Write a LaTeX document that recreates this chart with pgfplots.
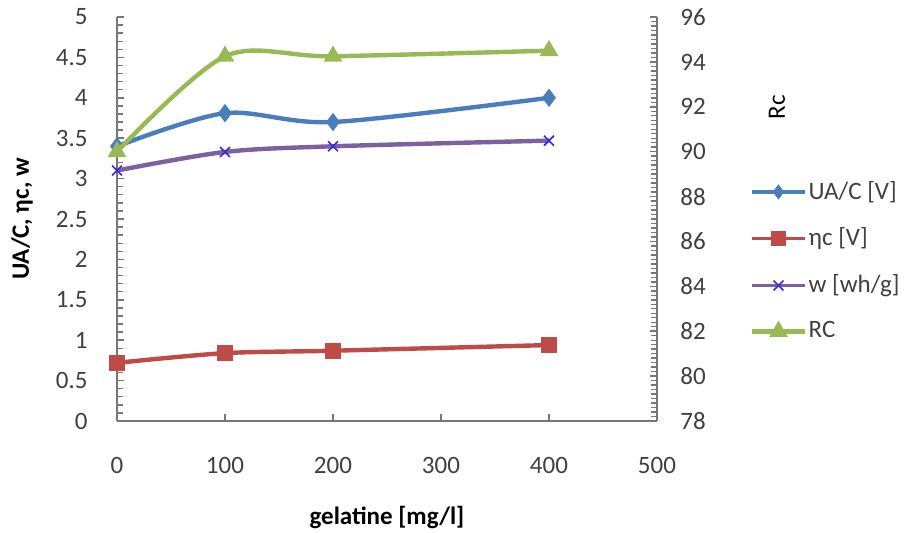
\documentclass[border=0pt]{standalone}
\usepackage{pgfplots}
\pgfplotsset{compat=1.18}
\usepackage{fontspec}
\setmainfont{Carlito}

\definecolor{ublue}{HTML}{4A7EBB}
\definecolor{ured}{HTML}{BE4B48}
\definecolor{upurple}{HTML}{7D60A0}
\definecolor{ugreen}{HTML}{98B954}
\definecolor{axisgray}{HTML}{777777}
\definecolor{labelgray}{HTML}{404040}

\begin{document}
\fontsize{12.5}{15}\selectfont
\begin{tikzpicture}
\pgfplotsset{
  common/.style={
    scale only axis, width=270pt, height=202pt,
    at={(0,0)}, anchor=south west,
    xmin=0, xmax=500,
    /pgf/number format/assume math mode=true,
    axis line style={axisgray, line width=0.8pt, -},
    every tick/.style={axisgray, line width=0.8pt},
    every minor tick/.style={axisgray, line width=0.7pt},
    tick align=inside,
    major tick length=3.5pt, minor tick length=2.8pt,
    tick label style={font=\fontsize{12.5}{15}\selectfont, text=labelgray},
    label style={font=\fontsize{12.5}{15}\selectfont, text=black},
    every axis plot/.append style={line width=2.2pt, smooth, tension=0.5},
  },
  legend image code/.code={%
    \draw[mark repeat=2, mark phase=2, #1]
      plot coordinates {(0pt,0pt) (13pt,0pt) (26pt,0pt)};%
  },
}

% left axis: voltages and specific energy
\begin{axis}[common, name=main,
  ymin=0, ymax=5,
  ytick={0,0.5,1,1.5,2,2.5,3,3.5,4,4.5,5},
  minor ytick={0,0.1,...,5},
  xtick={0,100,200,300,400,500},
  axis x line*=bottom, axis y line*=left,
  yticklabel style={anchor=east, inner sep=0pt, xshift=-14.5pt},
  xticklabel style={anchor=center, inner sep=0pt, yshift=-22pt},
  xlabel={\textbf{gelatine [mg/l]}},
  every axis x label/.style={at={(axis description cs:0.5,-0.238)}, anchor=center},
  ylabel={\textbf{UA/C, ηc, w}},
  every axis y label/.style={at={(axis description cs:-0.176,0.5)}, rotate=90, anchor=center},
]
\addplot[ublue, mark=diamond*, mark size=2.8pt, mark options={fill=ublue}]
  coordinates {(0,3.40) (100,3.81) (200,3.70) (400,4.00)};
\addplot[ured, mark=square*, mark size=3pt, mark options={fill=ured}]
  coordinates {(0,0.72) (100,0.84) (200,0.87) (400,0.94)};
\addplot[upurple, mark=x, mark size=3.5pt, mark options={line width=0.8pt, draw=blue!55!upurple}]
  coordinates {(0,3.10) (100,3.33) (200,3.40) (400,3.47)};
\end{axis}

% right axis: RC
\begin{axis}[common,
  ymin=78, ymax=96,
  ytick={78,80,82,84,86,88,90,92,94,96},
  minor ytick={78,78.2,...,96},
  axis y line*=right, axis x line=none,
  yticklabel style={anchor=west, inner sep=0pt, xshift=11.5pt},
  ylabel={Rc},
  every axis y label/.style={at={(axis description cs:1.222,0.777)}, rotate=90, anchor=center},
  legend cell align=left,
  legend style={at={(axis description cs:1.172,0.60)}, anchor=north west,
    draw=none, fill=none, inner sep=0pt, row sep=10.5pt,
    font=\fontsize{12.5}{15}\selectfont, text=labelgray,
    nodes={inner sep=1pt}},
]
\addlegendimage{ublue, line width=1.6pt, mark=diamond*, mark size=2.5pt, mark options={fill=ublue}}
\addlegendentry{UA/C [V]}
\addlegendimage{ured, line width=1.6pt, mark=square*, mark size=3pt, mark options={fill=ured}}
\addlegendentry{ηc [V]}
\addlegendimage{upurple, line width=1.6pt, mark=x, mark size=3.5pt, mark options={line width=0.8pt, draw=blue!55!upurple}}
\addlegendentry{w [wh/g]}
\addplot[ugreen, mark=triangle*, mark size=3.2pt, mark options={fill=ugreen}]
  coordinates {(0,90.0) (100,94.25) (200,94.25) (400,94.5)};
\addlegendentry{RC}
\end{axis}

\pgfresetboundingbox
\path[use as bounding box] (main.south west) ++(-58.5pt,-55.5pt) rectangle ++(453pt,266pt);
\end{tikzpicture}
\end{document}
